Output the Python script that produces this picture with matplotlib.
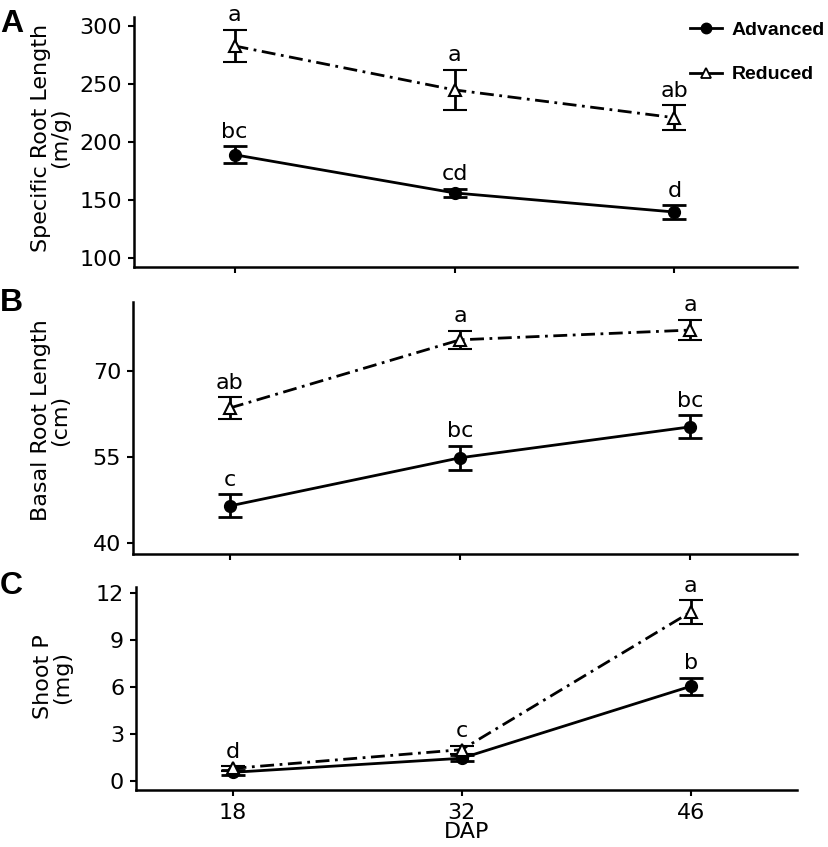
import numpy as np
from matplotlib import pyplot as plt
from matplotlib.lines import Line2D

# days after planting
dap = [18, 32, 46]

# specific root length (m/g)
srl_adv = [189, 156, 139.5]
srl_adv_se = [7.5, 3.6, 5.7]
srl_red = [283, 245, 221]
srl_red_se = [14, 17.5, 11]
srl_adv_letters = ['bc', 'cd', 'd']
srl_red_letters = ['a', 'a', 'ab']

# basal root length (cm)
brl_adv = [46.4, 54.8, 60.2]
brl_adv_se = [2.0, 2.1, 2.0]
brl_red = [63.5, 75.4, 77.1]
brl_red_se = [1.9, 1.6, 1.8]
brl_adv_letters = ['c', 'bc', 'bc']
brl_red_letters = ['ab', 'a', 'a']

# shoot P (mg)
sp_adv = [0.55, 1.45, 6.05]
sp_adv_se = [0.15, 0.2, 0.55]
sp_red = [0.8, 2.0, 10.8]
sp_red_se = [0.15, 0.25, 0.75]
sp_adv_letters = ['', '', 'b']
sp_red_letters = ['d', 'c', 'a']

W, H = 829, 847
fig = plt.figure(figsize=(W / 100, H / 100), dpi=100)


def px_axes(x0, x1, y0, y1):
    # pixel box -> figure fraction
    return fig.add_axes([x0 / W, 1 - y1 / H, (x1 - x0) / W, (y1 - y0) / H])


dashdot = (0, (5, 2, 1, 2))
LW = 2.0


def draw_panel(ax, adv, adv_se, red, red_se, adv_lab, red_lab):
    ax.errorbar(dap, adv, yerr=adv_se, color='black', lw=LW, capsize=8.5,
                capthick=LW, elinewidth=LW, marker='o', ms=8.5,
                mfc='black', mec='black', ls='-', zorder=3)
    ax.errorbar(dap, red, yerr=red_se, color='black', lw=LW, capsize=8.5,
                capthick=LW, elinewidth=LW, marker='^', ms=8.5,
                mfc='white', mec='black', mew=1.5, ls=dashdot, zorder=3)
    for x, y, e, t in zip(dap, adv, adv_se, adv_lab):
        if t:
            ax.annotate(t, (x, y + e), xytext=(0, 6), textcoords='offset points',
                        ha='center', va='baseline', fontsize=16)
    for x, y, e, t in zip(dap, red, red_se, red_lab):
        if t:
            ax.annotate(t, (x, y + e), xytext=(0, 6), textcoords='offset points',
                        ha='center', va='baseline', fontsize=16)
    for s in ['top', 'right']:
        ax.spines[s].set_visible(False)
    for s in ['left', 'bottom']:
        ax.spines[s].set_linewidth(1.8)
    ax.tick_params(width=1.5, length=4.5, labelsize=16, pad=4)
    ax.set_xticks(dap)


axA = px_axes(134, 797, 17, 267)
draw_panel(axA, srl_adv, srl_adv_se, srl_red, srl_red_se, srl_adv_letters, srl_red_letters)
axA.set_xlim(11.6, 53.8)
axA.set_ylim(92, 308)
axA.set_yticks([100, 150, 200, 250, 300])
axA.set_xticklabels([])

axB = px_axes(133, 797, 302, 554)
draw_panel(axB, brl_adv, brl_adv_se, brl_red, brl_red_se, brl_adv_letters, brl_red_letters)
axB.set_xlim(12.1, 52.5)
axB.set_ylim(38, 82)
axB.set_yticks([40, 55, 70])
axB.set_xticklabels([])

axC = px_axes(136, 797, 587, 790)
draw_panel(axC, sp_adv, sp_adv_se, sp_red, sp_red_se, sp_adv_letters, sp_red_letters)
axC.set_xlim(12.1, 52.5)
axC.set_ylim(-0.58, 12.4)
axC.set_yticks([0, 3, 6, 9, 12])
axC.set_xticklabels([str(d) for d in dap])
axC.tick_params(axis='x', pad=5)
axC.set_xlabel('DAP', fontsize=16, labelpad=-1)

# y labels
fig.text(51 / W, 1 - 138 / H, 'Specific Root Length\n(m/g)', rotation=90,
         ha='center', va='center', fontsize=16, linespacing=0.95, multialignment='center')
fig.text(51 / W, 1 - 420 / H, 'Basal Root Length\n(cm)', rotation=90,
         ha='center', va='center', fontsize=16, linespacing=0.95, multialignment='center')
fig.text(53 / W, 1 - 677 / H, 'Shoot P\n(mg)', rotation=90,
         ha='center', va='center', fontsize=16, linespacing=0.95, multialignment='center')

# panel letters
for lab, yy in [('A', 24), ('B', 303), ('C', 586)]:
    fig.text(0, 1 - yy / H, lab, ha='left', va='center', fontsize=23,
             fontweight='bold', family='Liberation Sans')

handles = [
    Line2D([], [], color='black', lw=LW, marker='o', ms=7.5, mfc='black'),
    Line2D([], [], color='black', lw=LW, marker='^', ms=7.5, mfc='white', mew=1.3),
]
fig.legend(handles, ['Advanced', 'Reduced'], loc='upper left',
           bbox_to_anchor=(690 / W, 1 - 21 / H), frameon=False,
           prop={'family': 'Liberation Sans', 'weight': 'bold', 'size': 14},
           handlelength=1.65, handletextpad=0.5, labelspacing=1.4, borderpad=0,
           borderaxespad=0)

fig.savefig('out.png', dpi=100)
